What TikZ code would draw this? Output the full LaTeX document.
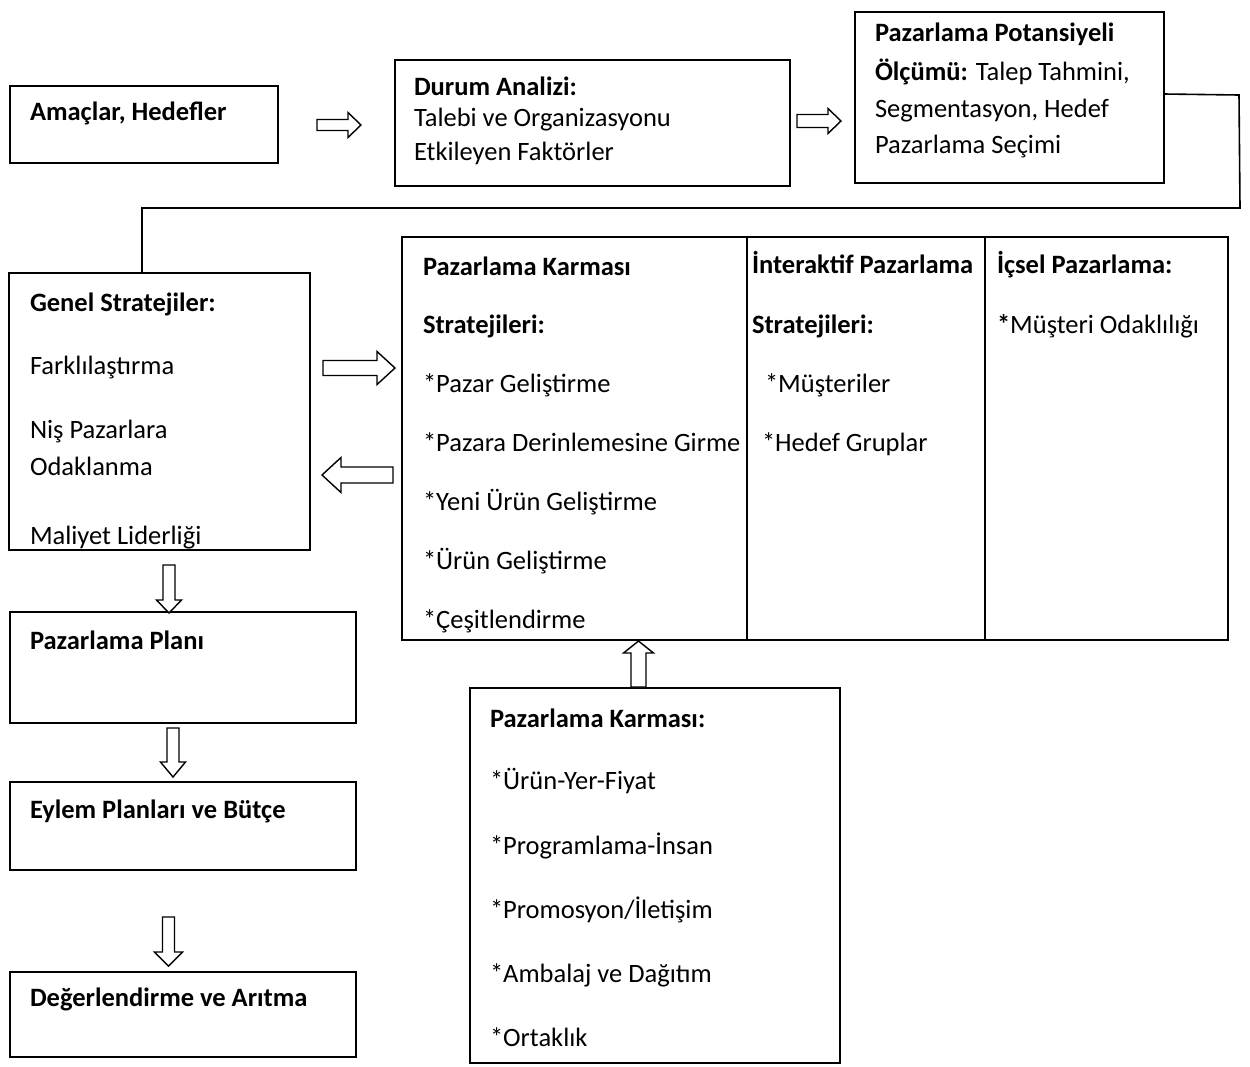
\documentclass[tikz,border=0pt]{standalone}
\usepackage{fontspec}
\setmainfont{Carlito}
\begin{document}
\begin{tikzpicture}[x=1pt,y=-1pt,
  box/.style={draw, line width=1.6pt, inner sep=0pt, outer sep=0pt, anchor=north west},
  txt/.style={anchor=base west, inner sep=0pt, outer sep=0pt,
              font=\fontsize{26.5}{32}\selectfont},
  bt/.style={txt, font=\fontsize{26.5}{32}\selectfont\bfseries},
  blockarrow/.style={draw, line width=1.4pt, fill=white, line join=miter},
  link/.style={draw, line width=1.6pt}]
% page frame
\useasboundingbox (0,0) rectangle (1250,1066);

% horizontal hollow arrow: tail x, head-base x, tip x, centre y, shaft half, head half
\newcommand{\hblock}[6]{%
  \draw[blockarrow] (#1,#4-#5) -- (#2,#4-#5) -- (#2,#4-#6) -- (#3,#4)
    -- (#2,#4+#6) -- (#2,#4+#5) -- (#1,#4+#5) -- cycle;}
% vertical hollow arrow: centre x, tail y, head-base y, tip y, shaft half, head half
\newcommand{\vblock}[6]{%
  \draw[blockarrow] (#1-#5,#2) -- (#1-#5,#3) -- (#1-#6,#3) -- (#1,#4)
    -- (#1+#6,#3) -- (#1+#5,#3) -- (#1+#5,#2) -- cycle;}

% ---------- boxes ----------
\node[box, minimum width=268pt, minimum height=77pt]  (b1) at (10,86) {};
\node[box, minimum width=395pt, minimum height=126pt] (b2) at (395,60) {};
\node[box, minimum width=309pt, minimum height=171pt] (b3) at (855,12) {};
\node[box, minimum width=301pt, minimum height=277pt] (b4) at (9,273) {};
\node[box, minimum width=826pt, minimum height=403pt] (b5) at (402,237) {};
\node[box, minimum width=346pt, minimum height=111pt] (b6) at (10,612) {};
\node[box, minimum width=346pt, minimum height=88pt]  (b7) at (10,782) {};
\node[box, minimum width=346pt, minimum height=85pt]  (b8) at (10,972) {};
\node[box, minimum width=370pt, minimum height=375pt] (b9) at (470,688) {};

% column dividers of the strategy box
\coordinate (d1) at (747,0);
\coordinate (d2) at (985,0);
\draw[link] (d1 |- b5.north) -- (d1 |- b5.south);
\draw[link] (d2 |- b5.north) -- (d2 |- b5.south);

% ---------- texts ----------
\node[bt] (t1) at (30,120) {Amaçlar, Hedefler};

\node[bt]  (t2a) at (414,95)  {Durum Analizi:};
\node[txt] (t2b) at (414,126) {Talebi ve Organizasyonu};
\node[txt] (t2c) at (414,160) {Etkileyen Faktörler};

\node[bt]  (t3a) at (875,41)  {Pazarlama Potansiyeli};
\node[txt] (t3b) at (875,80)  {\textbf{Ölçümü:} Talep Tahmini,};
\node[txt] (t3c) at (875,117) {Segmentasyon, Hedef};
\node[txt] (t3d) at (875,153) {Pazarlama Seçimi};

\node[bt]  (t4a) at (30,311) {Genel Stratejiler:};
\node[txt] (t4b) at (30,374) {Farklılaştırma};
\node[txt] (t4c) at (30,438) {Niş Pazarlara};
\node[txt] (t4d) at (30,475) {Odaklanma};
% the last line runs past the frame and is cut by it
\begin{scope}
  \clip (b4.north west) rectangle (b4.south east);
  \node[txt] (t4e) at (30,544) {Maliyet Liderliği};
\end{scope}

\node[bt]  (t5a) at (423,275) {Pazarlama Karması};
\node[bt]  (t5b) at (423,333) {Stratejileri:};
\node[txt] (t5c) at (423,392) {*Pazar Geliştirme};
\node[txt] (t5d) at (423,451) {*Pazara Derinlemesine Girme};
\node[txt] (t5e) at (423,510) {*Yeni Ürün Geliştirme};
\node[txt] (t5f) at (423,569) {*Ürün Geliştirme};
\node[txt] (t5g) at (423,628) {*Çeşitlendirme};

\node[bt]  (t5h) at (752,273) {İnteraktif Pazarlama};
\node[bt]  (t5i) at (752,333) {Stratejileri:};
\node[txt] (t5j) at (765,392) {*Müşteriler};
\node[txt] (t5k) at (762,451) {*Hedef Gruplar};

\node[bt]  (t5l) at (997,273) {İçsel Pazarlama:};
\node[txt] (t5m) at (997,333) {\textbf{*}Müşteri Odaklılığı};

\node[bt] (t6) at (30,649)  {Pazarlama Planı};
\node[bt] (t7) at (30,818)  {Eylem Planları ve Bütçe};
\node[bt] (t8) at (30,1006) {Değerlendirme ve Arıtma};

\node[bt]  (t9a) at (490,727)  {Pazarlama Karması:};
\node[txt] (t9b) at (490,789)  {*Ürün-Yer-Fiyat};
\node[txt] (t9c) at (490,854)  {*Programlama-İnsan};
\node[txt] (t9d) at (490,918)  {*Promosyon/İletişim};
\node[txt] (t9e) at (490,982)  {*Ambalaj ve Dağıtım};
\node[txt] (t9f) at (490,1046) {*Ortaklık};

% ---------- elbow link from the potential box to the general strategies ----------
\coordinate (k1) at (1239,95);
\coordinate (k2) at (1240,208);
\coordinate (k3) at (142,208);
\draw[link] ([yshift=3.5pt]b3.east) -- (k1) -- (k2) -- (k3) -- (k3 |- b4.north);

% ---------- hollow block arrows ----------
\hblock{317}{348}{361}{125}{5.5}{12.5}
\hblock{797}{828}{841}{121}{6.5}{12.5}
\hblock{323}{377}{395}{368}{7.5}{16.5}
\hblock{393}{341}{322}{475}{8}{17.5}
\vblock{169}{565}{600}{613}{6}{12.5}
\vblock{173}{728}{762}{777}{6}{12.5}
\vblock{168.5}{917}{952}{966}{6}{14}
\vblock{638.5}{687}{653}{641}{7.5}{15}
\end{tikzpicture}
\end{document}
